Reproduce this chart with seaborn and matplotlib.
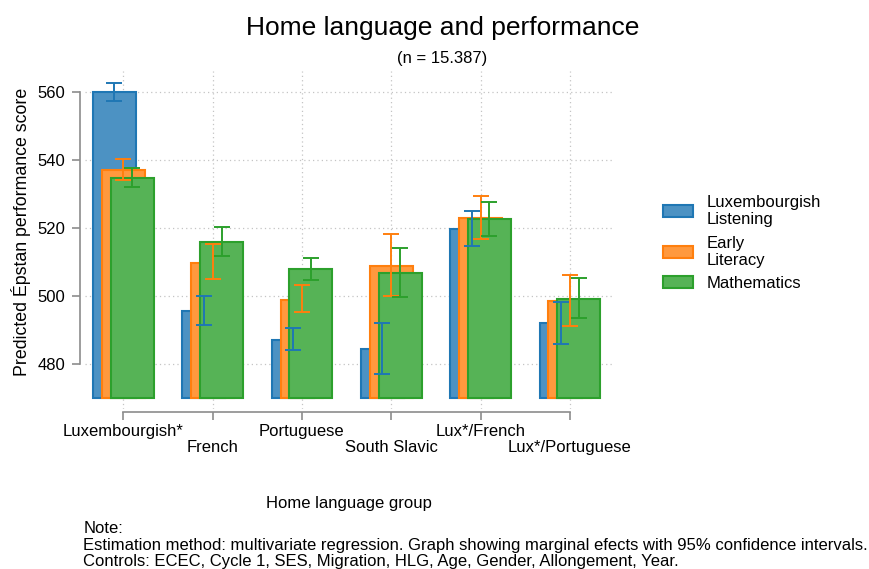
import matplotlib
matplotlib.use("Agg")
import matplotlib.pyplot as plt
import matplotlib.patches as mpatches
import pandas as pd
import seaborn as sns

# Data
groups = ["Luxembourgish*", "French", "Portuguese", "South Slavic", "Lux*/French", "Lux*/Portuguese"]
subjects = ["Luxembourgish\nListening", "Early\nLiteracy", "Mathematics"]

listening = [560.0, 495.8, 487.3, 484.6, 519.8, 492.1]
listening_lo = [557.4, 491.6, 484.2, 477.2, 514.8, 486.1]
listening_hi = [562.7, 500.1, 490.8, 492.1, 525.1, 498.4]

literacy = [537.2, 509.9, 499.0, 509.0, 523.1, 498.7]
literacy_lo = [534.1, 505.0, 495.3, 500.2, 517.0, 491.3]
literacy_hi = [540.5, 515.3, 503.2, 518.3, 529.5, 506.2]

maths = [534.8, 516.0, 507.9, 506.9, 522.6, 499.2]
maths_lo = [532.3, 512.0, 504.8, 499.7, 517.7, 493.5]
maths_hi = [537.6, 520.3, 511.3, 514.3, 527.7, 505.5]

edge_colors = ["#1f77b4", "#ff7f0e", "#2ca02c"]
fill_colors = ["#4c92c3", "#ff993e", "#56b356"]
offsets = [-0.1, 0.0, 0.1]
base = 470

# long table for seaborn
rows = []
series = [(listening, listening_lo, listening_hi),
          (literacy, literacy_lo, literacy_hi),
          (maths, maths_lo, maths_hi)]
for s, (vals, lo, hi) in enumerate(series):
    for g in range(len(groups)):
        rows.append({"pos": round(g + offsets[s], 2), "score": vals[g],
                     "lo": lo[g], "hi": hi[g], "subject": subjects[s]})
df = pd.DataFrame(rows)

sns.set_theme(style="white")
plt.rcParams["font.family"] = ["Liberation Sans", "DejaVu Sans"]
plt.rcParams["text.color"] = "black"
plt.rcParams["xtick.labelcolor"] = "black"
plt.rcParams["ytick.labelcolor"] = "black"

fig = plt.figure(figsize=(8.7, 5.69), dpi=100)
ax = fig.add_axes([0.0977, 0.282, 0.6066, 0.594])

sns.barplot(data=df, x="pos", y="score", hue="subject", hue_order=subjects,
            palette=fill_colors, native_scale=True, dodge=False, width=4.8,
            errorbar=None, saturation=1, linewidth=1.5, legend=False, ax=ax)

# bars start at the base value, solid fill with darker edge
for p in ax.patches:
    c = p.get_facecolor()
    k = [f.lower() for f in fill_colors].index(matplotlib.colors.to_hex(c))
    top = p.get_y() + p.get_height()
    p.set_y(base)
    p.set_height(top - base)
    p.set_edgecolor(edge_colors[k])
    p.set_zorder(2)

# confidence intervals on top of all bars
for s, name in enumerate(subjects):
    sub = df[df["subject"] == name]
    ax.errorbar(sub["pos"], sub["score"],
                yerr=[sub["score"] - sub["lo"], sub["hi"] - sub["score"]],
                fmt="none", ecolor=edge_colors[s], elinewidth=1.4,
                capsize=6, capthick=1.4, zorder=3)

ax.set_xlim(-0.429, 5.48)
ax.set_ylim(467, 566.4)
ax.set_xticks(range(len(groups)))
ax.set_xticklabels(groups)
ax.set_yticks([480, 500, 520, 540, 560])
ax.set_yticklabels(["480", "500", "520", "540", "560"])
ax.set_xlabel("")
ax.set_ylabel("")

ax.grid(True, linestyle=(0, (1, 2.5)), color="#c4c4c4", linewidth=0.9)
ax.set_axisbelow(True)

sns.despine(ax=ax)
ax.spines["left"].set_position(("outward", 3.6))
ax.spines["left"].set_bounds(480, 560)
ax.spines["bottom"].set_position(("outward", 2.3))
ax.spines["bottom"].set_bounds(0, 5)
for sp in ("left", "bottom"):
    ax.spines[sp].set_color("#8c8c8c")
    ax.spines[sp].set_linewidth(1.2)

ax.tick_params(axis="y", left=True, length=5.8, width=1.2, color="#8c8c8c",
               pad=4.8, labelsize=12)
ax.tick_params(axis="x", bottom=True, length=6, width=1.2, color="#8c8c8c",
               pad=3, labelsize=12)
# alternate label rows
for i, t in enumerate(ax.xaxis.get_major_ticks()):
    if i % 2:
        t.set_pad(3 + 11.3)

fig.text(0.5084, 0.9385, "Home language and performance", ha="center", va="baseline", fontsize=19)
fig.text(0.5077, 0.889, "(n = 15.387)", ha="center", va="baseline", fontsize=12)
fig.text(0.0239, 0.593, "Predicted Épstan performance score", rotation=90,
         ha="center", va="center", fontsize=12.8)
fig.text(0.401, 0.1067, "Home language group", ha="center", va="baseline", fontsize=12)

fig.text(0.0958, (569 - 532.7) / 569, "Note:", ha="left", va="baseline", fontsize=12)
fig.text(0.0958, (569 - 550) / 569,
         "Estimation method: multivariate regression. Graph showing marginal efects with 95% confidence intervals.",
         ha="left", va="baseline", fontsize=12)
fig.text(0.0958, (569 - 566) / 569,
         "Controls: ECEC, Cycle 1, SES, Migration, HLG, Age, Gender, Allongement, Year.",
         ha="left", va="baseline", fontsize=12)

handles = [mpatches.Patch(facecolor=f, edgecolor=e, linewidth=1.5)
           for f, e in zip(fill_colors, edge_colors)]
fig.legend(handles, subjects, loc="center left", bbox_to_anchor=(663 / 870, 1 - 243 / 569),
           frameon=False, fontsize=12, handlelength=1.8, handleheight=0.72,
           handletextpad=0.8, borderpad=0, borderaxespad=0, labelspacing=0.5)

fig.savefig("out.png", dpi=100)
plt.close(fig)
